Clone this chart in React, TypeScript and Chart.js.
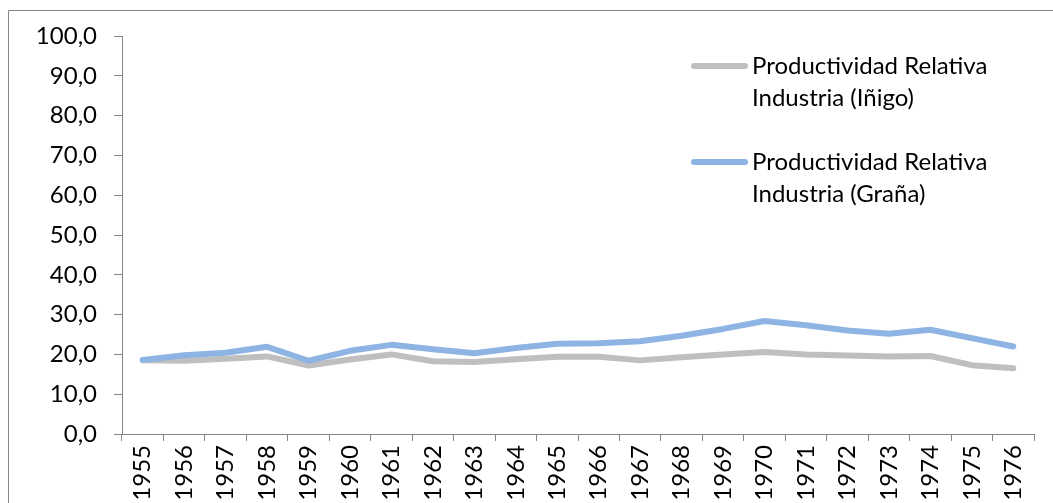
import React, { useEffect, useRef } from "react";
import { Chart, registerables } from "chart.js";

Chart.register(...registerables);

const years = ["1955","1956","1957","1958","1959","1960","1961","1962","1963","1964","1965","1966","1967","1968","1969","1970","1971","1972","1973","1974","1975","1976"];
const inigo = [18.5, 18.4, 18.9, 19.5, 17.2, 18.7, 20.0, 18.3, 18.1, 18.8, 19.4, 19.4, 18.5, 19.3, 20.0, 20.6, 20.0, 19.7, 19.5, 19.6, 17.3, 16.5];
const grana = [18.6, 19.8, 20.4, 21.9, 18.4, 20.9, 22.4, 21.3, 20.3, 21.6, 22.7, 22.8, 23.3, 24.7, 26.4, 28.4, 27.3, 26.0, 25.2, 26.2, 24.1, 22.0];
const labelInigo = ["Productividad Relativa", "Industria (Iñigo)"];
const labelGrana = ["Productividad Relativa", "Industria (Graña)"];

const FONT = "Lato";
const GRAY = "#BFBFBF";
const BLUE = "#8EB4E3";
const AXIS = "#868686";

export default function App() {
  const ref = useRef<HTMLCanvasElement | null>(null);
  useEffect(() => {
    const canvas = ref.current;
    if (!canvas) return;
    const framePlugin = {
      id: "frame",
      beforeDraw(chart: any) {
        const ctx = chart.ctx;
        ctx.save();
        ctx.fillStyle = "#fff";
        ctx.fillRect(0, 0, chart.width, chart.height);
        ctx.strokeStyle = AXIS;
        ctx.lineWidth = 1;
        ctx.beginPath();
        ctx.moveTo(8.5, chart.height);
        ctx.lineTo(8.5, 10.5);
        ctx.lineTo(chart.width, 10.5);
        ctx.stroke();
        ctx.restore();
      },
      afterDraw(chart: any) {
        const ctx = chart.ctx;
        ctx.save();
        const entries = [
          { color: GRAY, lines: labelInigo, y: 66 },
          { color: BLUE, lines: labelGrana, y: 162 },
        ];
        ctx.font = `24px ${FONT}`;
        ctx.fillStyle = "#000";
        ctx.textBaseline = "middle";
        ctx.textAlign = "left";
        for (const e of entries) {
          ctx.strokeStyle = e.color;
          ctx.lineWidth = 6;
          ctx.lineCap = "round";
          ctx.beginPath();
          ctx.moveTo(694, e.y);
          ctx.lineTo(745, e.y);
          ctx.stroke();
          e.lines.forEach((t, i) => ctx.fillText(t, 752, e.y + i * 32));
        }
        ctx.restore();
      },
    };
    const chart = new Chart(canvas, {
      type: "line",
      data: {
        labels: years,
        datasets: [
          { label: labelInigo.join(" "), data: inigo, borderColor: GRAY, backgroundColor: GRAY, borderWidth: 6, pointRadius: 0, tension: 0, order: 1, borderJoinStyle: "round", borderCapStyle: "round" },
          { label: labelGrana.join(" "), data: grana, borderColor: BLUE, backgroundColor: BLUE, borderWidth: 6, pointRadius: 0, tension: 0, order: 0, borderJoinStyle: "round", borderCapStyle: "round" },
        ],
      },
      options: {
        animation: false,
        responsive: false,
        devicePixelRatio: 1,
        layout: { padding: { left: 0, top: 36, right: 19, bottom: 0 } },
        plugins: { legend: { display: false }, tooltip: { enabled: false } },
        scales: {
          x: {
            offset: true,
            grid: { offset: true, drawOnChartArea: false, drawTicks: true, tickLength: 7, color: AXIS },
            border: { color: AXIS, width: 1 },
            ticks: { color: "#000", font: { family: FONT, size: 24 }, minRotation: 90, maxRotation: 90, padding: 4, autoSkip: false },
            afterFit(s: any) { s.height = 69; },
          },
          y: {
            min: 0,
            max: 100,
            grid: { drawOnChartArea: false, drawTicks: true, tickLength: 8, color: AXIS },
            border: { color: AXIS, width: 1 },
            ticks: {
              stepSize: 10,
              color: "#000",
              font: { family: FONT, size: 24 },
              padding: 17,
              callback: (v: any) => Number(v).toFixed(1).replace(".", ","),
            },
            afterFit(s: any) { s.width = 122; },
          },
        },
      },
      plugins: [framePlugin],
    });
    return () => chart.destroy();
  }, []);
  return (
    <div style={{ position: "fixed", left: 0, top: 0, width: 1053, height: 503, overflow: "hidden", background: "#fff" }}>
      <canvas ref={ref} width={1053} height={503} style={{ display: "block", width: 1053, height: 503 }} />
    </div>
  );
}
